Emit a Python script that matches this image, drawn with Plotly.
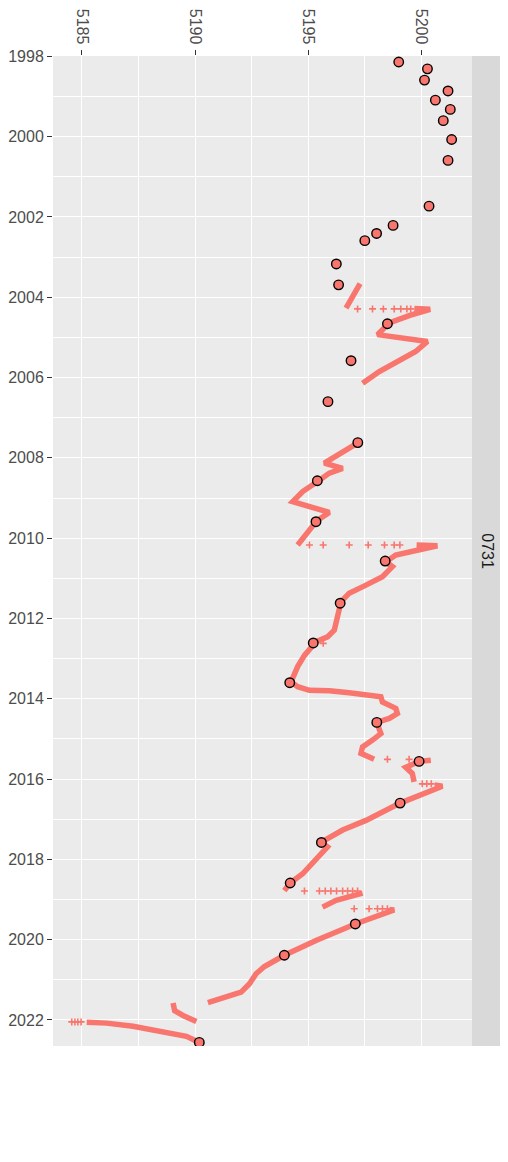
import plotly.graph_objects as go

# ---- data ----
# annual survey points (time in decimal years, value)
dot_year = [1998.14, 1998.31, 1998.59, 1998.86, 1999.09, 1999.32, 1999.60, 2000.07, 2000.59, 2001.73,
            2002.21, 2002.41, 2002.59, 2003.17, 2003.69, 2004.66, 2005.58, 2006.60, 2007.62, 2008.57,
            2009.59, 2010.57, 2011.62, 2012.61, 2013.60, 2014.59, 2015.56, 2016.60, 2017.58, 2018.59,
            2019.61, 2020.39, 2022.56]
dot_val = [5199.01, 5200.28, 5200.15, 5201.19, 5200.63, 5201.29, 5200.98, 5201.35, 5201.19, 5200.35,
           5198.76, 5198.03, 5197.51, 5196.25, 5196.35, 5198.51, 5196.90, 5195.88, 5197.20, 5195.41,
           5195.35, 5198.41, 5196.42, 5195.23, 5194.19, 5198.04, 5199.91, 5199.07, 5195.59, 5194.21,
           5197.09, 5193.95, 5190.19]

# continuous logger record (None separates gaps)
log_year = [2003.66, 2003.95, 2004.27, None,
            2004.28, 2004.30, 2004.45, 2004.64, 2004.93, 2005.03, 2005.10, 2005.35, 2005.68, 2005.85, 2006.14, None,
            2007.62, 2007.80, 2008.13, 2008.26, 2008.38, 2008.59, 2008.84, 2009.09, 2009.25, 2009.36, 2009.50,
            2009.59, 2009.80, 2010.17, None,
            2010.17, 2010.19, 2010.42, 2010.59, 2010.71, 2010.96, 2011.17, 2011.37, 2011.58, 2011.96, 2012.29,
            2012.46, 2012.58, 2012.92, 2013.20, 2013.58, 2013.70, 2013.79, 2013.80, 2013.85, 2013.91, 2013.95,
            2014.08, 2014.24, 2014.37, 2014.49, 2014.59, 2014.87, 2015.03, 2015.20, 2015.36, 2015.51, None,
            2015.53, 2015.56, 2015.71, 2015.86, 2016.07, None,
            2016.15, 2016.18, 2016.60, 2017.03, 2017.27, 2017.57, 2017.69, 2018.02, 2018.36, 2018.59, 2018.78, None,
            2018.84, 2019.02, 2019.19, None,
            2019.25, 2019.26, 2019.61, 2020.02, 2020.39, 2020.52, 2020.67, 2020.85, 2021.10, 2021.31, 2021.43,
            2021.57, None,
            2021.58, 2021.77, 2021.89, 2022.04, None,
            2022.06, 2022.08, 2022.16, 2022.30, 2022.41, 2022.56]
log_val = [5197.30, 5197.00, 5196.68, None,
           5199.70, 5200.40, 5199.50, 5198.59, 5198.07, 5199.17, 5200.28, 5199.76, 5198.73, 5198.15, 5197.41, None,
           5197.22, 5196.68, 5195.72, 5196.53, 5195.94, 5195.42, 5194.76, 5194.32, 5195.20, 5195.94, 5195.57,
           5195.35, 5195.06, 5194.54, None,
           5199.80, 5200.72, 5198.88, 5198.44, 5198.73, 5198.29, 5197.56, 5196.82, 5196.46, 5196.31, 5196.16,
           5195.86, 5195.35, 5194.84, 5194.54, 5194.25, 5194.54, 5195.06, 5195.94, 5196.82, 5197.56, 5198.22,
           5198.29, 5198.88, 5198.95, 5198.59, 5198.04, 5198.22, 5197.85, 5197.41, 5197.34, 5197.92, None,
           5200.43, 5199.91, 5199.32, 5199.61, 5199.69, None,
           5200.60, 5200.94, 5199.07, 5197.56, 5196.53, 5195.59, 5195.86, 5195.35, 5194.76, 5194.21, 5193.95, None,
           5197.41, 5196.24, 5195.64, None,
           5198.60, 5198.81, 5197.09, 5195.35, 5193.95, 5193.59, 5193.07, 5192.70, 5192.41, 5192.04, 5191.38,
           5190.57, None,
           5189.03, 5189.10, 5189.47, 5190.06, None,
           5185.21, 5186.09, 5187.26, 5188.74, 5189.62, 5190.19]

# sparse logger readings inside the jumps
gap_year = [2004.29] * 7 + [2010.17] * 7 + [2015.51] * 2 + [2016.12] * 3 + [2018.79] * 9 + [2019.23] * 5 \
           + [2022.05] * 4 + [2012.62]
gap_val = [5197.19, 5197.85, 5198.33, 5198.81, 5199.10, 5199.37, 5199.54,
           5195.06, 5195.67, 5196.82, 5197.66, 5198.38, 5198.81, 5199.06,
           5198.51, 5199.47,
           5200.05, 5200.25, 5200.45,
           5194.84, 5195.50, 5195.76, 5196.01, 5196.26, 5196.53, 5196.75, 5196.97, 5197.19,
           5197.04, 5197.70, 5198.07, 5198.29, 5198.51,
           5184.55, 5184.69, 5184.82, 5184.96,
           5195.67]

x_ticks = [5185, 5190, 5195, 5200]
y_ticks = list(range(1998, 2023, 2))
facet_label = "0731"

COL = "#F8766D"
FONT = "Liberation Sans, Arial, sans-serif"

fig = go.Figure()
fig.add_trace(go.Scatter(x=log_val, y=log_year, mode="lines", connectgaps=False,
                         line=dict(color=COL, width=5.5), hoverinfo="skip", showlegend=False))
fig.add_trace(go.Scatter(x=gap_val, y=gap_year, mode="markers",
                         marker=dict(symbol="cross-thin", size=5, line=dict(color=COL, width=1.6)),
                         showlegend=False))
fig.add_trace(go.Scatter(x=dot_val, y=dot_year, mode="markers",
                         marker=dict(symbol="circle", size=9.5, color=COL, line=dict(color="black", width=1.4)),
                         showlegend=False))

# page body adds an 8 px offset, so margins are reduced accordingly
fig.update_layout(
    width=508, height=1162,
    margin=dict(l=45, r=44, t=48, b=124),
    paper_bgcolor="white", plot_bgcolor="#EBEBEB",
    font=dict(family=FONT, size=16, color="#4D4D4D"),
    xaxis=dict(side="top", range=[5183.72, 5202.25], tickvals=x_ticks, ticktext=[str(v) for v in x_ticks],
               tickangle=90, ticks="outside", ticklen=5, tickwidth=1, tickcolor="#333333",
               showgrid=True, gridcolor="white", gridwidth=1.4, zeroline=False, showline=False,
               automargin=False,
               tickfont=dict(size=16, color="#4D4D4D", family=FONT),
               minor=dict(dtick=2.5, tick0=5185, showgrid=True, gridcolor="white", gridwidth=0.7)),
    yaxis=dict(range=[2022.65, 1997.99], tickvals=y_ticks, ticktext=[str(v) for v in y_ticks],
               ticks="outside", ticklen=5, tickwidth=1, tickcolor="#333333",
               showgrid=True, gridcolor="white", gridwidth=1.4, zeroline=False, showline=False,
               automargin=False,
               tickfont=dict(size=16, color="#4D4D4D", family=FONT),
               minor=dict(dtick=1, tick0=1998, showgrid=True, gridcolor="white", gridwidth=0.7)),
    shapes=[dict(type="rect", xref="paper", yref="paper", x0=1.0, x1=1 + 31.5 / 419, y0=0, y1=1,
                 fillcolor="#D9D9D9", line=dict(width=0), layer="below")],
    annotations=[dict(text=facet_label, xref="paper", yref="paper", x=1 + 15.75 / 419, y=0.5,
                      showarrow=False, textangle=90, xanchor="center", yanchor="middle",
                      font=dict(size=16, color="#1A1A1A", family=FONT))],
)

fig.write_html("out.html")
